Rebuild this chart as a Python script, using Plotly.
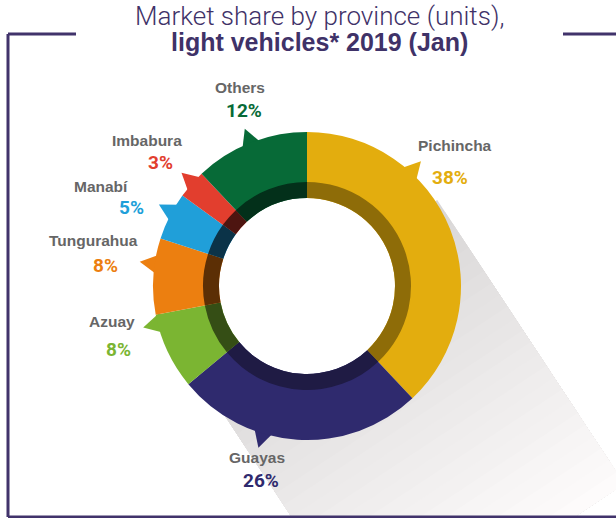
import math
import plotly.graph_objects as go

# data
provinces = ["Pichincha", "Guayas", "Azuay", "Tungurahua", "Manabí", "Imbabura", "Others"]
share = [38, 26, 8, 8, 5, 3, 12]
pct_text = [f"{v}%" for v in share]

# style
colors = ["#e3ad0e", "#2f2a6e", "#7bb532", "#ec7f10", "#209fd9", "#e23e2e", "#076a37"]
ring_colors = ["#8e6c08", "#1f1b44", "#354e15", "#5c2f05", "#0b3348", "#4d1510", "#03301a"]
pointer_frac = [0.31, 0.64, 0.88, 0.66, 0.6, 0.56, 0.5]
# (name x, name y, pct x, pct y) in pixels
label_pos = [
    (455, 145, 450, 177),
    (257, 457, 261, 480),
    (112, 321, 118, 349),
    (93, 240, 105, 265),
    (101, 186, 131, 207),
    (147, 140, 160, 162),
    (240, 87, 244, 110),
]

W, H = 616, 518
CX, CY = 307, 286
R_OUT, R_HOLE, R_RING = 154, 88, 104
FRAME = "#41336b"


def pt(r, deg):
    a = math.radians(deg)
    return CX + r * math.sin(a), CY - r * math.cos(a)


fig = go.Figure()

# long drop shadow, fading away from the donut
ang = math.radians(56.6)
d = (math.cos(ang), math.sin(ang))
n = (math.sin(ang), -math.cos(ang))
s_end, steps = 340, 24
shapes = []
for i in range(steps):
    s0 = s_end * i / steps
    g = int(217 + (255 - 217) * i / steps)
    corners = []
    for s, off in ((s0, 156), (s_end, 156), (s_end, -140), (s0, -140)):
        corners.append((CX + s * d[0] + off * n[0], CY + s * d[1] + off * n[1]))
    path = "M " + " L ".join(f"{x:.1f},{y:.1f}" for x, y in corners) + " Z"
    shapes.append(dict(type="path", path=path, xref="x", yref="y", layer="below",
                       fillcolor=f"rgb({g},{g - 2},{g - 2})", line=dict(width=0)))
# keep the donut hole white
shapes.append(dict(type="circle", xref="x", yref="y", layer="below",
                   x0=CX - R_HOLE - 1, x1=CX + R_HOLE + 1, y0=CY - R_HOLE - 1, y1=CY + R_HOLE + 1,
                   fillcolor="white", line=dict(width=0)))

# pointer triangles on the outer edge
start = 0.0
for v, c, f in zip(share, colors, pointer_frac):
    mid = start + v * 3.6 * f
    p1, p2, tip = pt(150, mid - 4), pt(150, mid + 4), pt(169, mid)
    fig.add_trace(go.Scatter(x=[p1[0], tip[0], p2[0]], y=[p1[1], tip[1], p2[1]],
                             fill="toself", fillcolor=c, mode="lines", line=dict(width=0),
                             hoverinfo="skip", showlegend=False))
    start += v * 3.6

dom_x = [(CX - R_OUT) / W, (CX + R_OUT) / W]
dom_y = [1 - (CY + R_OUT) / H, 1 - (CY - R_OUT) / H]
fig.add_trace(go.Pie(labels=provinces, values=share, sort=False, direction="clockwise",
                     rotation=0, hole=R_HOLE / R_OUT, textinfo="none",
                     marker=dict(colors=colors, line=dict(width=0)),
                     domain=dict(x=dom_x, y=dom_y), showlegend=False))
ring_x = [(CX - R_RING) / W, (CX + R_RING) / W]
ring_y = [1 - (CY + R_RING) / H, 1 - (CY - R_RING) / H]
fig.add_trace(go.Pie(labels=provinces, values=share, sort=False, direction="clockwise",
                     rotation=0, hole=R_HOLE / R_RING, textinfo="none",
                     marker=dict(colors=ring_colors, line=dict(width=0)),
                     domain=dict(x=ring_x, y=ring_y), showlegend=False, hoverinfo="skip"))

annotations = [
    dict(x=319, y=16, text="Market share by province (units),",
         font=dict(family="Roboto", size=26, color="#3f3268", weight=300)),
    dict(x=319, y=42, text="<b>light vehicles* 2019 (Jan)</b>",
         font=dict(family="Liberation Sans, Arial", size=25, color="#3f3268")),
]
for name, pct, c, (nx, ny, px, py) in zip(provinces, pct_text, colors, label_pos):
    annotations.append(dict(x=nx, y=ny, text=f"<b>{name}</b>",
                            font=dict(family="Liberation Sans, Arial", size=15.5, color="#666666")))
    annotations.append(dict(x=px, y=py, text=f"<b>{pct}</b>",
                            font=dict(family="Roboto", size=19, color=c)))
for a in annotations:
    a.update(xref="x", yref="y", showarrow=False, xanchor="center", yanchor="middle")

# open frame around the chart
for x0, y0, x1, y1 in [(8, 34, 76, 34), (8, 34, 8, 517), (8, 517, 616, 517), (563, 34, 616, 34)]:
    shapes.append(dict(type="line", x0=x0, y0=y0, x1=x1, y1=y1, xref="x", yref="y",
                       line=dict(color=FRAME, width=3)))

fig.update_layout(
    width=W, height=H,
    margin=dict(l=0, r=0, t=0, b=0),
    paper_bgcolor="white", plot_bgcolor="white",
    xaxis=dict(range=[0, W], visible=False, fixedrange=True),
    yaxis=dict(range=[H, 0], visible=False, fixedrange=True),
    shapes=shapes,
    annotations=annotations,
)

fig.write_html("out.html", config={"displayModeBar": False},
               post_script="document.body.style.margin = '0';")
